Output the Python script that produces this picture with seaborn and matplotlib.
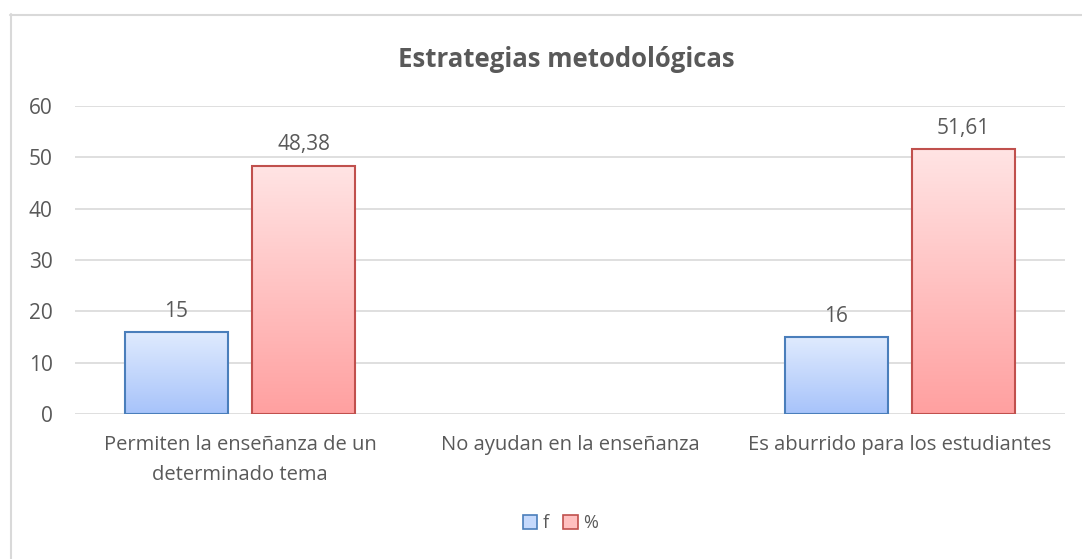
import numpy as np
import pandas as pd
import seaborn as sns
import matplotlib.pyplot as plt
from matplotlib.colors import LinearSegmentedColormap
from matplotlib.patches import Patch
from matplotlib.lines import Line2D

categories = ['Permiten la enseñanza de un\ndeterminado tema',
              'No ayudan en la enseñanza',
              'Es aburrido para los estudiantes']
series = ['f', '%']
f_values = [16, 0, 15]
pct_values = [48.38, 0, 51.61]
f_labels = ['15', '', '16']
pct_labels = ['48,38', '', '51,61']

sns.set_theme(style='white')
plt.rcParams['font.family'] = ['Open Sans', 'DejaVu Sans']
gray = '#595959'

df = pd.DataFrame({
    'categoria': categories * 2,
    'serie': [series[0]] * 3 + [series[1]] * 3,
    'valor': f_values + pct_values,
})

fig = plt.figure(figsize=(10.82, 5.59), dpi=100)
ax = fig.add_axes([0.0693, 0.2594, 0.9150, 0.551])

sns.barplot(data=df, x='categoria', y='valor', hue='serie', order=categories,
            hue_order=series, width=0.772, gap=0.19, ax=ax, legend=False,
            palette=['#c5d9fc', '#ffc0c0'], saturation=1)

ax.set_ylim(0, 60)
ax.set_yticks(range(0, 61, 10))
ax.yaxis.grid(True, color='#d9d9d9', linewidth=1.2)
ax.set_axisbelow(True)
for s in ax.spines.values():
    s.set_visible(False)
ax.set_xlabel('')
ax.set_ylabel('')
ax.tick_params(axis='y', length=0, labelsize=15, labelcolor=gray, pad=16)
ax.tick_params(axis='x', length=0, labelsize=14.5, labelcolor=gray, pad=15)
for t in ax.get_xticklabels():
    t.set_linespacing(1.65)

# gradient fills
grads = {
    'f': (LinearSegmentedColormap.from_list('b', ['#a7c3fa', '#e0ebfe']), '#4a7ebb'),
    '%': (LinearSegmentedColormap.from_list('r', ['#ffa0a0', '#ffe4e4']), '#c0504d'),
}
grad = np.linspace(0, 1, 256).reshape(-1, 1)
for cont, name, labels in zip(ax.containers, series, [f_labels, pct_labels]):
    cmap, edge = grads[name]
    for bar, lab in zip(cont, labels):
        h = bar.get_height()
        if h <= 0:
            bar.set_visible(False)
            continue
        x0, w = bar.get_x(), bar.get_width()
        bar.set_edgecolor(edge)
        bar.set_linewidth(1.5)
        bar.set_zorder(3)
        im = ax.imshow(grad, cmap=cmap, origin='lower', aspect='auto',
                       extent=(x0, x0 + w, 0, h), zorder=2.5)
        im.set_clip_path(bar)
        bar.set_facecolor('none')
        ax.text(x0 + w / 2, h + 2.0, lab, ha='center', va='bottom',
                fontsize=15, color=gray)

ax.set_xlim(-0.5, 2.5)
ax.set_ylim(0, 60)

fig.text(0.523, 0.893, 'Estrategias metodológicas', ha='center', va='center',
         fontsize=18.5, fontweight='bold', color=gray)

handles = [Patch(facecolor='#c5d9fc', edgecolor='#4a7ebb', linewidth=1.2),
           Patch(facecolor='#ffc0c0', edgecolor='#c0504d', linewidth=1.2)]
fig.legend(handles, series, loc='center', bbox_to_anchor=(0.518, 0.064), ncol=2,
           frameon=False, fontsize=13, labelcolor=gray, handlelength=0.8,
           handleheight=0.8, handletextpad=0.3, columnspacing=0.8)

fig.add_artist(Line2D([10 / 1082, 1], [1 - 14.5 / 559] * 2, color='#d9d9d9', lw=1.5))
fig.add_artist(Line2D([10.5 / 1082] * 2, [0, 1 - 14 / 559], color='#d9d9d9', lw=1.5))

fig.savefig('out.png', dpi=100)
